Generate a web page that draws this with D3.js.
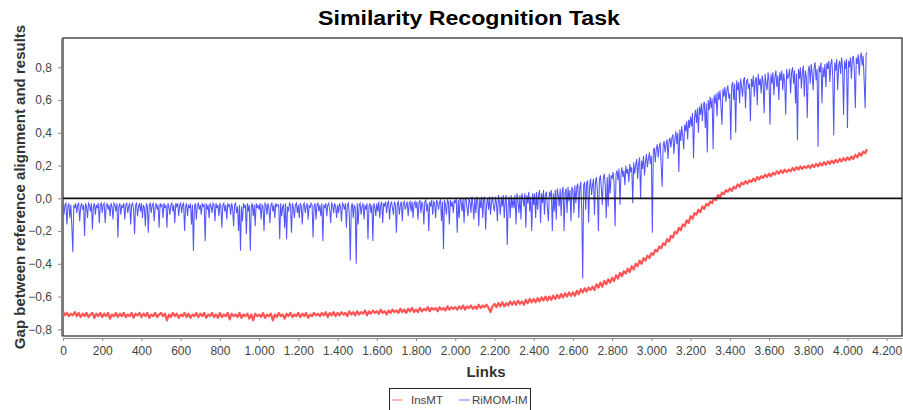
<!doctype html>
<html>
<head>
<meta charset="utf-8">
<style>
  body { margin: 0; background: #fff; }
  text { font-family: "Liberation Sans", Arial, sans-serif; }
</style>
<script src="https://d3js.org/d3.v7.min.js"></script>
</head>
<body>
<svg width="903" height="410"></svg>
<script>

// series names and sampling (links between successive values)
var seriesNames = ["InsMT", "RiMOM-IM"];
var insmtStep = 10, rimomStep = 5;

// InsMT, one value every 10 links, 0 .. 4100 (one row = 100 links)
var insmtValues = [
  -0.69,-0.715,-0.70,-0.72,-0.705,-0.715,-0.695,-0.72,-0.70,-0.725,
  -0.705,-0.72,-0.70,-0.725,-0.71,-0.70,-0.73,-0.705,-0.72,-0.70,
  -0.725,-0.705,-0.72,-0.70,-0.735,-0.71,-0.72,-0.70,-0.725,-0.705,
  -0.72,-0.70,-0.725,-0.71,-0.72,-0.70,-0.73,-0.705,-0.715,-0.70,
  -0.725,-0.705,-0.72,-0.70,-0.73,-0.71,-0.72,-0.70,-0.725,-0.71,
  -0.70,-0.72,-0.705,-0.745,-0.71,-0.725,-0.70,-0.72,-0.705,-0.73,
  -0.71,-0.72,-0.70,-0.725,-0.705,-0.73,-0.71,-0.72,-0.70,-0.725,
  -0.705,-0.72,-0.70,-0.73,-0.71,-0.72,-0.70,-0.725,-0.71,-0.73,
  -0.70,-0.725,-0.71,-0.72,-0.70,-0.74,-0.705,-0.72,-0.71,-0.725,
  -0.70,-0.73,-0.71,-0.72,-0.705,-0.735,-0.71,-0.745,-0.705,-0.72,
  -0.71,-0.725,-0.70,-0.73,-0.71,-0.72,-0.705,-0.745,-0.71,-0.725,
  -0.70,-0.72,-0.71,-0.735,-0.705,-0.72,-0.70,-0.725,-0.71,-0.72,
  -0.70,-0.725,-0.705,-0.72,-0.70,-0.73,-0.71,-0.72,-0.70,-0.715,
  -0.705,-0.72,-0.70,-0.715,-0.695,-0.725,-0.70,-0.715,-0.695,-0.72,
  -0.70,-0.715,-0.695,-0.71,-0.70,-0.72,-0.69,-0.71,-0.695,-0.715,
  -0.69,-0.71,-0.695,-0.705,-0.685,-0.715,-0.69,-0.705,-0.685,-0.70,
  -0.69,-0.705,-0.68,-0.70,-0.69,-0.71,-0.685,-0.70,-0.68,-0.695,
  -0.685,-0.70,-0.675,-0.695,-0.68,-0.70,-0.675,-0.69,-0.67,-0.695,
  -0.68,-0.695,-0.67,-0.69,-0.675,-0.685,-0.665,-0.69,-0.67,-0.68,
  -0.67,-0.69,-0.665,-0.68,-0.67,-0.685,-0.66,-0.68,-0.665,-0.675,
  -0.665,-0.68,-0.66,-0.675,-0.655,-0.68,-0.66,-0.67,-0.655,-0.675,
  -0.66,-0.675,-0.65,-0.67,-0.655,-0.665,-0.65,-0.67,-0.695,-0.66,
  -0.645,-0.665,-0.64,-0.66,-0.635,-0.66,-0.64,-0.655,-0.63,-0.65,
  -0.63,-0.65,-0.625,-0.645,-0.63,-0.65,-0.62,-0.64,-0.615,-0.635,
  -0.615,-0.635,-0.61,-0.63,-0.605,-0.625,-0.60,-0.625,-0.60,-0.62,
  -0.595,-0.615,-0.59,-0.61,-0.585,-0.605,-0.58,-0.60,-0.575,-0.595,
  -0.575,-0.595,-0.565,-0.585,-0.555,-0.575,-0.55,-0.57,-0.545,-0.56,
  -0.54,-0.56,-0.525,-0.545,-0.515,-0.54,-0.505,-0.525,-0.495,-0.515,
  -0.485,-0.505,-0.47,-0.49,-0.455,-0.475,-0.445,-0.46,-0.43,-0.45,
  -0.415,-0.435,-0.40,-0.415,-0.38,-0.40,-0.365,-0.38,-0.35,-0.365,
  -0.335,-0.345,-0.315,-0.325,-0.295,-0.305,-0.275,-0.285,-0.25,-0.265,
  -0.23,-0.24,-0.205,-0.215,-0.18,-0.195,-0.16,-0.17,-0.135,-0.15,
  -0.11,-0.125,-0.09,-0.10,-0.07,-0.085,-0.05,-0.065,-0.035,-0.045,
  -0.02,-0.03,0.00,-0.01,0.02,0.005,0.035,0.025,0.05,0.04,
  0.06,0.045,0.07,0.06,0.085,0.07,0.095,0.085,0.105,0.09,
  0.11,0.10,0.12,0.105,0.13,0.115,0.135,0.125,0.145,0.13,
  0.15,0.135,0.155,0.145,0.165,0.15,0.17,0.155,0.175,0.16,
  0.175,0.165,0.185,0.17,0.19,0.175,0.195,0.18,0.195,0.185,
  0.20,0.185,0.205,0.19,0.21,0.195,0.215,0.20,0.22,0.205,
  0.225,0.21,0.23,0.215,0.235,0.22,0.24,0.225,0.245,0.23,
  0.25,0.235,0.255,0.24,0.265,0.25,0.275,0.26,0.285,0.275,
  0.30
];

// RiMOM-IM, one value every 5 links, 0 .. 4100 (one row = 100 links)
var rimomValues = [
  -0.03,-0.10,-0.04,-0.03,-0.16,-0.05,-0.03,-0.12,-0.04,-0.17,-0.33,-0.04,-0.06,-0.03,-0.09,-0.04,-0.03,-0.14,-0.05,-0.03,
  -0.07,-0.04,-0.23,-0.03,-0.05,-0.12,-0.03,-0.04,-0.08,-0.03,-0.19,-0.05,-0.03,-0.10,-0.04,-0.06,-0.03,-0.15,-0.04,-0.03,
  -0.09,-0.04,-0.03,-0.15,-0.05,-0.03,-0.07,-0.04,-0.11,-0.03,-0.05,-0.13,-0.03,-0.04,-0.08,-0.03,-0.24,-0.05,-0.03,-0.10,
  -0.04,-0.06,-0.03,-0.13,-0.04,-0.03,-0.09,-0.05,-0.03,-0.16,-0.04,-0.03,-0.07,-0.22,-0.04,-0.03,-0.11,-0.05,-0.03,-0.08,
  -0.03,-0.12,-0.04,-0.06,-0.17,-0.03,-0.05,-0.21,-0.04,-0.03,-0.09,-0.04,-0.03,-0.14,-0.05,-0.03,-0.07,-0.04,-0.18,-0.03,
  -0.05,-0.04,-0.12,-0.03,-0.06,-0.04,-0.18,-0.03,-0.05,-0.10,-0.04,-0.03,-0.08,-0.04,-0.15,-0.03,-0.05,-0.03,-0.11,-0.04,
  -0.03,-0.09,-0.04,-0.03,-0.20,-0.05,-0.03,-0.11,-0.04,-0.06,-0.03,-0.16,-0.04,-0.32,-0.05,-0.03,-0.13,-0.04,-0.03,-0.07,
  -0.04,-0.10,-0.03,-0.05,-0.04,-0.26,-0.03,-0.07,-0.04,-0.12,-0.03,-0.05,-0.09,-0.03,-0.04,-0.14,-0.03,-0.06,-0.04,-0.11,
  -0.03,-0.05,-0.18,-0.04,-0.03,-0.08,-0.04,-0.13,-0.03,-0.05,-0.04,-0.10,-0.03,-0.06,-0.17,-0.04,-0.03,-0.09,-0.05,-0.20,
  -0.04,-0.32,-0.05,-0.14,-0.03,-0.06,-0.04,-0.22,-0.03,-0.08,-0.04,-0.32,-0.05,-0.03,-0.11,-0.04,-0.17,-0.03,-0.06,-0.04,
  -0.07,-0.03,-0.13,-0.04,-0.05,-0.20,-0.03,-0.04,-0.10,-0.03,-0.06,-0.15,-0.04,-0.03,-0.08,-0.04,-0.12,-0.03,-0.05,-0.04,
  -0.04,-0.25,-0.03,-0.11,-0.05,-0.04,-0.18,-0.03,-0.25,-0.05,-0.08,-0.03,-0.04,-0.21,-0.03,-0.06,-0.12,-0.04,-0.03,-0.09,
  -0.04,-0.12,-0.03,-0.05,-0.16,-0.04,-0.03,-0.09,-0.05,-0.03,-0.13,-0.04,-0.06,-0.03,-0.04,-0.24,-0.05,-0.03,-0.13,-0.04,
  -0.03,-0.08,-0.04,-0.11,-0.03,-0.26,-0.04,-0.06,-0.03,-0.11,-0.04,-0.03,-0.07,-0.15,-0.03,-0.04,-0.09,-0.03,-0.05,-0.12,
  -0.04,-0.09,-0.03,-0.05,-0.14,-0.03,-0.04,-0.07,-0.03,-0.18,-0.04,-0.03,-0.10,-0.38,-0.05,-0.03,-0.12,-0.04,-0.06,-0.40,
  -0.03,-0.16,-0.04,-0.03,-0.10,-0.05,-0.03,-0.13,-0.04,-0.07,-0.03,-0.25,-0.05,-0.03,-0.09,-0.04,-0.26,-0.03,-0.05,-0.11,
  -0.03,-0.08,-0.02,-0.12,-0.04,-0.02,-0.15,-0.03,-0.05,-0.02,-0.09,-0.03,-0.02,-0.13,-0.04,-0.02,-0.06,-0.10,-0.02,-0.04,
  -0.21,-0.03,-0.02,-0.10,-0.04,-0.02,-0.14,-0.03,-0.02,-0.07,-0.04,-0.02,-0.11,-0.03,-0.02,-0.08,-0.02,-0.12,-0.03,-0.02,
  -0.06,-0.02,-0.13,-0.03,-0.01,-0.09,-0.02,-0.04,-0.16,-0.02,-0.01,-0.08,-0.03,-0.20,-0.02,-0.05,-0.01,-0.10,-0.02,-0.03,
  -0.12,-0.01,-0.03,-0.07,-0.02,-0.01,-0.14,-0.02,-0.31,-0.01,-0.04,-0.10,-0.01,-0.02,-0.16,-0.01,-0.05,-0.02,-0.09,-0.01,
  -0.03,0.00,-0.21,-0.01,-0.12,0.00,-0.02,-0.08,0.00,-0.15,-0.01,0.00,-0.06,-0.11,0.00,-0.02,-0.09,0.01,-0.04,-0.13,
  0.00,-0.09,0.01,-0.02,-0.17,0.00,-0.06,0.01,-0.12,-0.01,0.01,-0.19,-0.03,0.00,-0.07,0.01,-0.10,-0.02,0.01,-0.05,
  -0.08,0.01,-0.03,-0.14,0.02,-0.02,-0.10,0.01,-0.05,0.02,-0.12,-0.01,0.02,-0.285,-0.04,0.01,-0.12,0.02,-0.06,0.00,
  -0.06,0.02,-0.16,0.03,-0.02,-0.09,0.02,-0.13,0.03,0.00,-0.05,0.03,-0.18,0.02,-0.03,0.04,-0.08,0.01,-0.20,0.03,
  -0.04,0.03,-0.12,0.04,-0.07,0.02,0.05,-0.15,0.03,-0.03,0.05,-0.10,0.02,0.04,-0.06,-0.14,0.04,0.01,0.05,-0.20,
  0.03,-0.08,0.05,-0.13,0.06,0.02,-0.05,0.06,-0.11,0.04,0.07,-0.20,0.03,0.06,-0.09,0.07,-0.02,0.05,-0.14,0.07,
  0.05,-0.09,0.08,-0.03,0.07,0.09,-0.12,0.06,0.10,-0.06,-0.49,0.08,0.10,-0.07,0.09,0.11,-0.15,0.07,0.12,0.02,
  0.08,0.12,-0.10,0.10,0.13,0.04,-0.20,0.11,0.14,0.06,-0.04,0.12,0.15,0.08,-0.12,0.13,-0.05,0.15,0.03,0.14,
  0.12,0.16,0.09,-0.17,0.15,0.17,0.11,0.18,-0.04,0.14,0.19,0.13,0.17,0.08,0.20,0.15,0.18,0.10,0.21,0.16,
  0.19,-0.03,0.22,0.15,0.20,0.24,0.12,0.21,0.25,0.00,0.23,0.18,0.26,0.14,0.22,0.27,0.19,0.24,0.28,0.21,
  0.26,-0.21,0.29,0.31,0.22,0.30,0.33,0.25,0.31,0.34,0.20,0.07,0.32,0.35,0.28,0.33,0.36,0.24,0.35,0.37,
  0.31,0.37,0.39,0.27,0.36,0.41,0.33,0.40,0.16,0.42,0.35,0.44,0.38,0.30,0.45,0.41,0.47,0.36,0.48,0.43,
  0.50,0.44,0.52,0.245,0.49,0.54,0.46,0.55,0.40,0.56,0.51,0.58,0.47,0.57,0.59,0.43,0.58,0.28,0.60,0.54,
  0.62,0.55,0.61,0.30,0.63,0.58,0.64,0.50,0.65,0.60,0.66,0.56,0.45,0.67,0.62,0.68,0.59,0.66,0.69,0.61,
  0.64,0.355,0.69,0.71,0.60,0.70,0.40,0.72,0.66,0.71,0.58,0.73,0.68,0.62,0.72,0.74,0.55,0.71,0.73,0.67,
  0.70,0.47,0.73,0.68,0.75,0.62,0.72,0.74,0.57,0.76,0.69,0.73,0.64,0.75,0.71,0.52,0.76,0.70,0.66,0.77,
  0.72,0.45,0.76,0.70,0.77,0.63,0.74,0.78,0.68,0.75,0.60,0.77,0.72,0.78,0.66,0.76,0.71,0.51,0.79,0.73,
  0.75,0.79,0.64,0.77,0.80,0.70,0.78,0.58,0.76,0.355,0.79,0.73,0.80,0.67,0.77,0.81,0.62,0.78,0.74,0.49,
  0.78,0.81,0.70,0.82,0.76,0.66,0.80,0.83,0.72,0.79,0.315,0.81,0.77,0.83,0.58,0.80,0.74,0.82,0.68,0.83,
  0.79,0.84,0.71,0.82,0.85,0.74,0.385,0.83,0.78,0.85,0.66,0.81,0.84,0.76,0.86,0.80,0.51,0.84,0.79,0.85,
  0.43,0.84,0.80,0.86,0.73,0.85,0.87,0.78,0.55,0.86,0.82,0.88,0.75,0.86,0.89,0.81,0.87,0.72,0.55,0.88,
  0.89
];

var xTicks = [0,200,400,600,800,1000,1200,1400,1600,1800,2000,2200,2400,2600,2800,3000,3200,3400,3600,3800,4000,4200];
var yTicks = [-0.8,-0.6,-0.4,-0.2,0,0.2,0.4,0.6,0.8];
var colors = ["#ff5555", "#5555ff"];

var svg = d3.select("svg"),
    plotLeft = 63, plotRight = 902, plotTop = 38, plotBottom = 336;

// german style numbers: 1.000 and 0,8
var de = d3.formatLocale({decimal: ",", thousands: ".", grouping: [3], currency: ["", "€"]});

var xScale = d3.scaleLinear().domain([0, 4278]).range([plotLeft, plotRight]),
    yScale = d3.scaleLinear().domain([-0.841, 0.979]).range([plotBottom, plotTop]);

svg.append("text")
   .attr("x", 469)
   .attr("y", 25)
   .attr("text-anchor", "middle")
   .attr("font-size", "20px")
   .attr("font-weight", "bold")
   .attr("textLength", 302)
   .attr("lengthAdjust", "spacingAndGlyphs")
   .text("Similarity Recognition Task");

// plot frame
svg.append("rect")
   .attr("x", plotLeft)
   .attr("y", plotTop)
   .attr("width", plotRight - plotLeft)
   .attr("height", plotBottom - plotTop)
   .attr("fill", "none")
   .attr("stroke", "#222")
   .attr("stroke-width", 1.2);

svg.append("clipPath").attr("id", "plotclip")
   .append("rect")
   .attr("x", plotLeft).attr("y", plotTop)
   .attr("width", plotRight - plotLeft).attr("height", plotBottom - plotTop);

var line = d3.line()
   .x(function(d) { return xScale(d[0]); })
   .y(function(d) { return yScale(d[1]); });

var insmt = insmtValues.map(function(v, i) { return [i * insmtStep, v]; });
var rimom = rimomValues.map(function(v, i) { return [i * rimomStep, v]; });

var plot = svg.append("g").attr("clip-path", "url(#plotclip)");

plot.append("path")
   .datum(insmt)
   .attr("d", line)
   .attr("fill", "none")
   .attr("stroke", colors[0])
   .attr("stroke-width", 2.2)
   .attr("stroke-linejoin", "round");

plot.append("path")
   .datum(rimom)
   .attr("d", line)
   .attr("fill", "none")
   .attr("stroke", colors[1])
   .attr("stroke-width", 1.05);

// zero line
plot.append("line")
   .attr("x1", plotLeft).attr("x2", plotRight)
   .attr("y1", yScale(0)).attr("y2", yScale(0))
   .attr("stroke", "#111")
   .attr("stroke-width", 1.8);

// axes
var xAxis = svg.append("g")
   .attr("transform", "translate(0," + (plotBottom + 2) + ")")
   .call(d3.axisBottom(xScale).tickValues(xTicks).tickFormat(de.format(",d")).tickSize(3).tickSizeOuter(0));

var yAxis = svg.append("g")
   .attr("transform", "translate(" + (plotLeft - 2) + ",0)")
   .call(d3.axisLeft(yScale).tickValues(yTicks).tickFormat(de.format(".1f")).tickSize(3).tickSizeOuter(0));

[xAxis, yAxis].forEach(function(a) {
  a.select(".domain").attr("stroke", "#888");
  a.selectAll(".tick line").attr("stroke", "#888");
  a.selectAll(".tick text")
   .attr("fill", "#444")
   .attr("font-size", "12px")
   .attr("font-family", "Liberation Sans, Arial, sans-serif");
});
xAxis.selectAll(".tick text").attr("dy", "0.95em");
yAxis.selectAll(".tick text").attr("dx", "-3px");

svg.append("text")
   .attr("x", 486)
   .attr("y", 377)
   .attr("text-anchor", "middle")
   .attr("font-size", "15px")
   .attr("font-weight", "bold")
   .attr("fill", "#333")
   .text("Links");

svg.append("text")
   .attr("transform", "translate(25,187) rotate(-90)")
   .attr("text-anchor", "middle")
   .attr("font-size", "15px")
   .attr("font-weight", "bold")
   .attr("fill", "#333")
   .text("Gap between reference alignment and results");

// legend
var legend = svg.append("g");
legend.append("rect")
   .attr("x", 389.5).attr("y", 388.5)
   .attr("width", 141).attr("height", 30)
   .attr("fill", "#fff")
   .attr("stroke", "#222");

var legendX = [392, 459], legendTextX = [411, 472];
seriesNames.forEach(function(name, i) {
  legend.append("line")
     .attr("x1", legendX[i]).attr("x2", legendX[i] + 11)
     .attr("y1", 400).attr("y2", 400)
     .attr("stroke", colors[i])
     .attr("stroke-opacity", 0.55)
     .attr("stroke-width", 1.5);
  legend.append("text")
     .attr("x", legendTextX[i])
     .attr("y", 404)
     .attr("font-size", "11.5px")
     .attr("fill", "#444")
     .text(name);
});

</script>
</body>
</html>
